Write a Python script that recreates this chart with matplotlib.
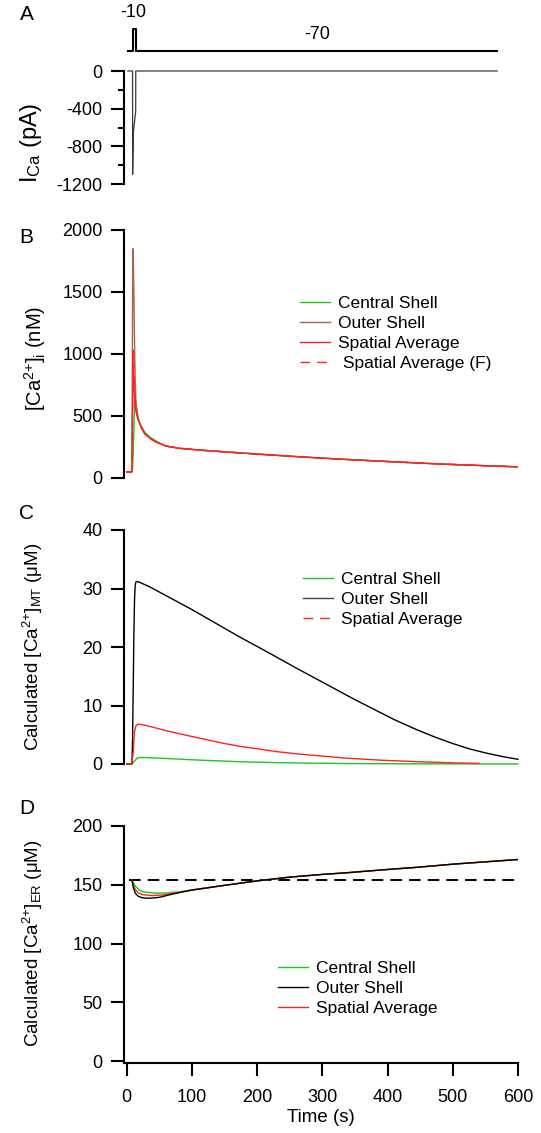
"""Calcium shell model figure: I_Ca, cytosolic, mitochondrial and ER calcium."""

import matplotlib

matplotlib.use("Agg")
import matplotlib.pyplot as plt
import numpy as np

plt.rcParams["font.family"] = ["Liberation Sans", "DejaVu Sans"]
plt.rcParams["mathtext.fontset"] = "custom"
plt.rcParams["mathtext.rm"] = "Liberation Sans"
plt.rcParams["mathtext.it"] = "Liberation Sans:italic"
plt.rcParams["axes.unicode_minus"] = False

# ---- data ----
# A: voltage protocol (mV) and calcium current (pA)
volt_t = [2, 9.5, 9.5, 14, 14, 568]
volt_mv = [-70, -70, -10, -10, -70, -70]
cur_t = [2, 9, 9.1, 10.2, 13.8, 13.9, 568]
cur_pa = [0, 0, -1100, -650, -430, 0, 0]

# B: [Ca2+]i (nM); shared slow tail after the spike
tail_b_t = [60, 80, 112, 150, 200, 250, 300, 350, 400, 450, 500, 550, 600]
tail_b_nm = [258, 240, 225, 211, 193, 176, 160, 146, 133, 120, 109, 99, 90]
central_b_t = [0, 8, 9, 10, 11, 12, 12.8, 14, 16, 18, 22, 28, 36, 45]
central_b_nm = [50, 50, 80, 200, 400, 580, 650, 600, 530, 480, 420, 368, 328, 298]
outer_b_t = [0, 8, 8.5, 9.3, 10, 11, 12, 13, 14, 16, 18, 22, 28, 36, 45]
outer_b_nm = [50, 50, 700, 1850, 1780, 1500, 1100, 800, 640, 520, 468, 410, 355, 318, 290]
avg_b_t = [0, 8, 9, 10, 11, 12, 13, 14, 16, 18, 22, 28, 36, 45]
avg_b_nm = [50, 50, 600, 1030, 800, 650, 580, 545, 500, 465, 410, 355, 318, 290]
avgf_b_t = [0, 8, 9.5, 10.5, 11.5, 13, 14, 16, 18, 22, 28, 36, 45]
avgf_b_nm = [50, 50, 700, 950, 780, 600, 550, 505, 466, 411, 356, 319, 291]

# C: calculated [Ca2+]MT (uM)
outer_c_t = [0, 8, 9, 10, 11, 12, 13, 14, 16, 19, 25, 35, 50, 70, 100, 125, 150,
             175, 200, 231, 260, 290, 320, 350, 380, 410, 444, 475, 500, 525,
             550, 575, 600]
outer_c_um = [0, 0, 4, 13, 22, 28, 30.5, 31.1, 31.2, 31.1, 30.8, 30.3, 29.4,
              28.2, 26.4, 24.8, 23.2, 21.6, 20.1, 18.2, 16.4, 14.6, 12.8, 11.0,
              9.3, 7.6, 5.9, 4.5, 3.5, 2.6, 1.9, 1.3, 0.8]
avg_c_t = [0, 8, 10, 11, 12, 14, 17, 25, 40, 60, 80, 100, 125, 150, 175, 200,
           231, 260, 290, 337, 390, 444, 500, 540]
avg_c_um = [0, 0, 2, 4, 5.5, 6.5, 6.8, 6.7, 6.3, 5.7, 5.2, 4.7, 4.1, 3.5, 3.0,
            2.6, 2.1, 1.75, 1.45, 1.0, 0.65, 0.4, 0.2, 0.1]
central_c_t = [0, 8, 12, 16, 20, 30, 60, 100, 125, 175, 231, 290, 337, 444, 600]
central_c_um = [0, 0, 0.5, 1.0, 1.1, 1.1, 0.95, 0.72, 0.6, 0.38, 0.23, 0.14,
                0.08, 0.03, 0.01]

# D: calculated [Ca2+]ER (uM); shared recovery tail
tail_d_t = [100, 150, 200, 250, 300, 337, 400, 444, 500, 550, 600]
tail_d_um = [145.5, 149.5, 153.3, 156.5, 158.8, 160.2, 163, 164.8, 167.5, 169.5, 171.5]
outer_d_t = [8, 10, 13, 18, 25, 35, 50, 70]
outer_d_um = [154, 148, 143, 140, 138.8, 138.5, 139.3, 142]
avg_d_t = [8, 10, 13, 18, 25, 40, 55, 75]
avg_d_um = [154, 150, 146, 143, 141.5, 140.8, 141.3, 143]
central_d_t = [8, 10, 13, 18, 25, 45, 60, 80]
central_d_um = [154, 152, 149, 146, 144, 142.8, 143, 144]
rest_d_t = [4, 600]
rest_d_um = [154, 154]

GREEN = "#19c619"
BROWN = "#a8644e"
RED = "#ff2222"

W, H = 541, 1133
XL, XR = 123.5, 518.0
XLIM = (-4.9, 600)
LEG = dict(frameon=False, fontsize=12.5, handlelength=1.75, handletextpad=0.45,
           labelspacing=0.27, borderpad=0, borderaxespad=0, loc="upper left")


def box(top, bottom):
    return [XL / W, 1 - bottom / H, (XR - XL) / W, (bottom - top) / H]


def style_axis(ax, show_x=False):
    for side in ("top", "right"):
        ax.spines[side].set_visible(False)
    ax.spines["left"].set_linewidth(1.5)
    if show_x:
        ax.spines["bottom"].set_linewidth(1.5)
    else:
        ax.spines["bottom"].set_visible(False)
        ax.tick_params(axis="x", bottom=False, labelbottom=False)
    ax.tick_params(axis="both", which="major", length=9.5, width=1.5,
                   labelsize=13, pad=5.5, direction="out")
    ax.tick_params(axis="both", which="minor", length=4, width=1.5)
    ax.set_xlim(*XLIM)


fig = plt.figure(figsize=(W / 100, H / 100), dpi=100)

# ---- A: voltage protocol ----
axv = fig.add_axes(box(5, 60))
axv.plot(volt_t, volt_mv, color="black", lw=1.5)
axv.set_xlim(*XLIM)
axv.set_ylim(-94.5, 55.5)
axv.axis("off")
axv.text(10, 36.4, "-10", ha="center", va="center", fontsize=13)
axv.text(292, -26.3, "-70", ha="center", va="center", fontsize=13)

# ---- A: current ----
axa = fig.add_axes(box(71, 184))
axa.plot(cur_t, cur_pa, color="#3a3a3a", lw=0.9, clip_on=False)
style_axis(axa)
axa.set_ylim(-1200, 0)
axa.set_yticks([0, -400, -800, -1200])
axa.set_yticks([-200, -600, -1000], minor=True)

# ---- B: cytosolic calcium ----
axb = fig.add_axes(box(230, 478))
axb.plot(central_b_t + tail_b_t, central_b_nm + tail_b_nm, color=GREEN, lw=1.0,
         label="Central Shell")
axb.plot(outer_b_t + tail_b_t, outer_b_nm + tail_b_nm, color=BROWN, lw=1.0,
         label="Outer Shell")
axb.plot(avg_b_t + tail_b_t, avg_b_nm + tail_b_nm, color=RED, lw=1.0,
         label="Spatial Average")
axb.plot(avgf_b_t + tail_b_t, avgf_b_nm + tail_b_nm, color=RED, lw=1.0,
         ls=(0, (7, 5)), label=" Spatial Average (F)")
style_axis(axb)
axb.set_ylim(0, 2000)
axb.set_yticks(np.arange(0, 2001, 500))
axb.legend(bbox_to_anchor=(300 / W, 1 - 296 / H), bbox_transform=fig.transFigure,
           **LEG)

# ---- C: mitochondrial calcium ----
axc = fig.add_axes(box(530, 764))
axc.plot(central_c_t, central_c_um, color=GREEN, lw=1.0, clip_on=False,
         label="Central Shell")
axc.plot(outer_c_t, outer_c_um, color="black", lw=1.0, clip_on=False,
         label="Outer Shell")
axc.plot(avg_c_t, avg_c_um, color=RED, lw=1.0, clip_on=False,
         label="Spatial Average")
style_axis(axc)
axc.set_ylim(0, 40)
axc.set_yticks(np.arange(0, 41, 10))
legc = axc.legend(bbox_to_anchor=(303 / W, 1 - 572 / H),
                  bbox_transform=fig.transFigure, **LEG)
legc.get_lines()[2].set_linestyle((0, (7, 5)))
legc.get_lines()[1].set_color("#404040")

# ---- D: ER calcium ----
axd = fig.add_axes(box(826, 1063))
axd.plot(rest_d_t, rest_d_um, color="black", lw=1.4, ls=(0, (6, 3.6)))
axd.plot(central_d_t + tail_d_t, central_d_um + tail_d_um, color=GREEN, lw=1.0,
         label="Central Shell")
axd.plot(avg_d_t + tail_d_t, avg_d_um + tail_d_um, color=RED, lw=1.0,
         label="Spatial Average")
axd.plot(outer_d_t + tail_d_t, outer_d_um + tail_d_um, color="black", lw=1.0,
         label="Outer Shell")
style_axis(axd, show_x=True)
axd.set_ylim(-1.7, 200)
axd.set_yticks(np.arange(0, 201, 50))
axd.set_xticks(np.arange(0, 601, 100))
axd.tick_params(axis="x", pad=9.5)
axd.set_xlabel("Time (s)", fontsize=13.5, labelpad=2)
hd, ld = axd.get_legend_handles_labels()
order = [0, 2, 1]
axd.legend([hd[i] for i in order], [ld[i] for i in order],
           bbox_to_anchor=(278 / W, 1 - 961 / H), bbox_transform=fig.transFigure,
           **LEG)

# ---- y labels and panel letters ----
ylabels = [
    (31, 143, r"I$_{\mathrm{Ca}}$ (pA)", 17),
    (35, 358, r"[Ca$^{\text{2+}}$]$_{\mathrm{i}}$ (nM)", 14.5),
    (33, 647, r"Calculated [Ca$^{\text{2+}}$]$_{\mathrm{MT}}$ ($\mathrm{\mu}$M)", 13.5),
    (33, 943, r"Calculated [Ca$^{\text{2+}}$]$_{\mathrm{ER}}$ ($\mathrm{\mu}$M)", 13.5),
]
for x, y, s, fs in ylabels:
    fig.text(x / W, 1 - y / H, s, rotation=90, ha="center", va="center",
             fontsize=fs)

for x, y, s in [(27, 15, "A"), (26, 237, "B"), (27, 513, "C"), (27, 808, "D")]:
    fig.text(x / W, 1 - y / H, s, ha="center", va="center", fontsize=15)

fig.savefig("out.png", dpi=100)
